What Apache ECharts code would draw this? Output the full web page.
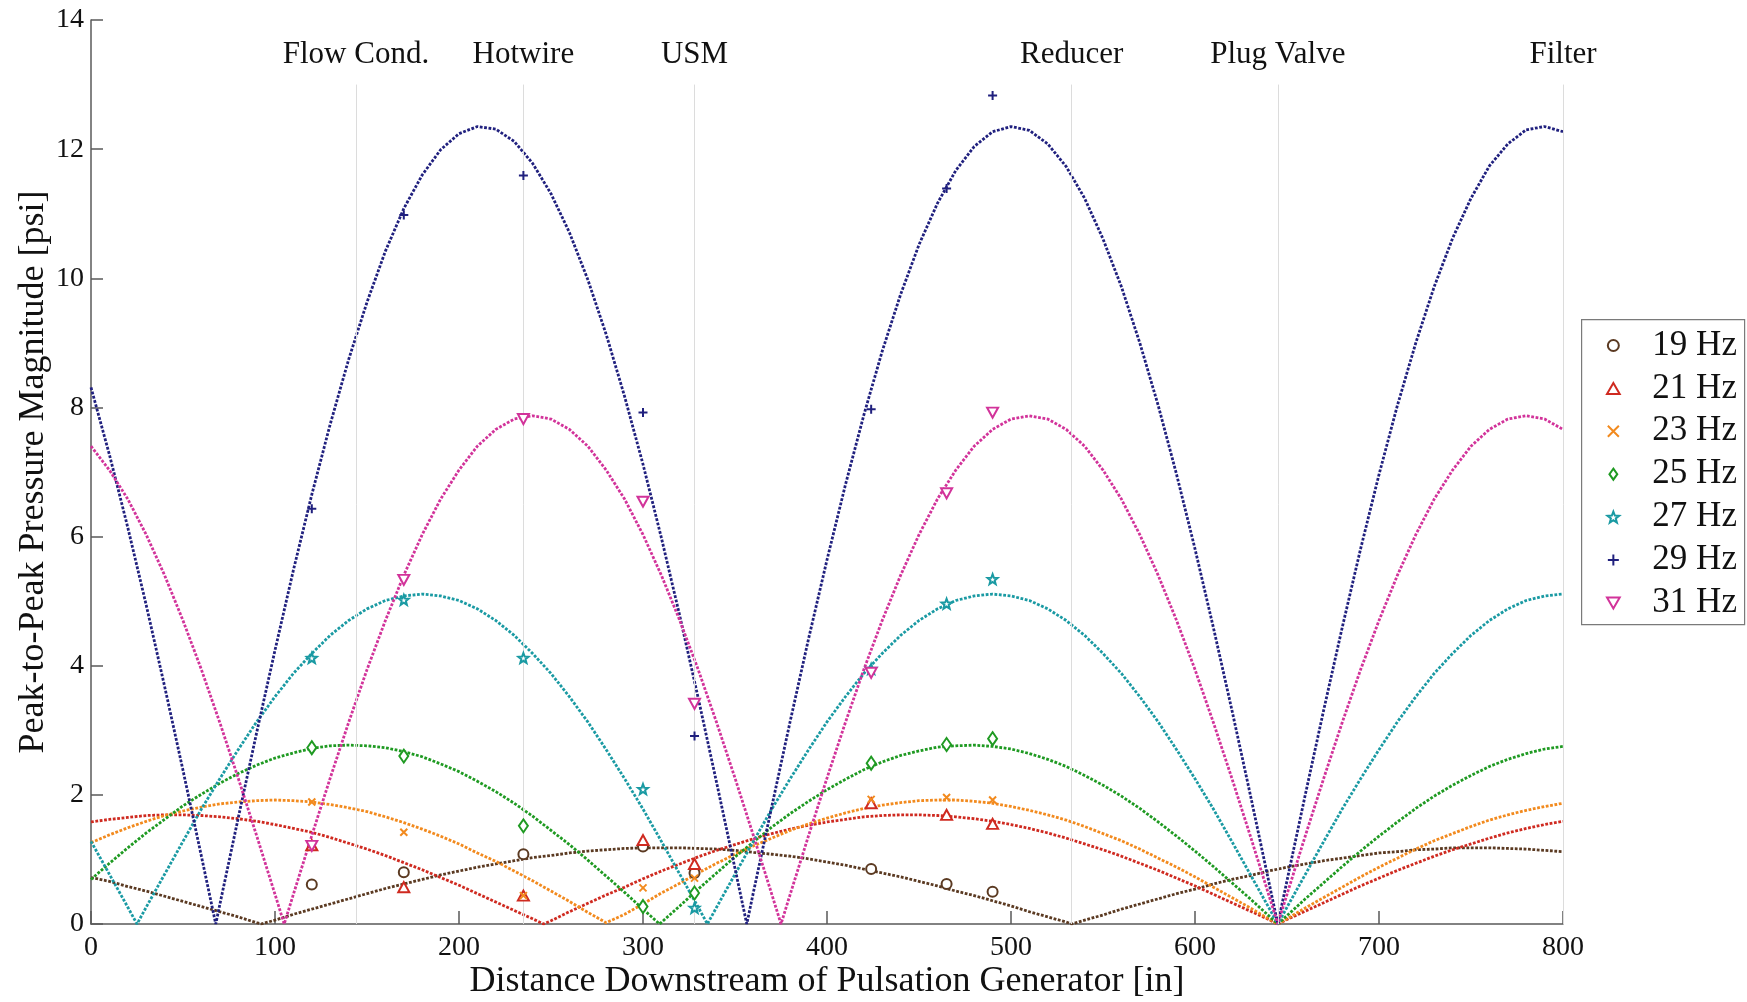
<!DOCTYPE html>
<html>
<head>
<meta charset="utf-8">
<script src="https://cdn.jsdelivr.net/npm/echarts@6/dist/echarts.min.js"></script>
<style>
html,body{margin:0;padding:0;background:#fff;}
#chart{width:1747px;height:1002px;}
</style>
</head>
<body>
<div id="chart"></div>
<script>
// ---------- data ----------
const seriesNames = ['19 Hz', '21 Hz', '23 Hz', '25 Hz', '27 Hz', '29 Hz', '31 Hz'];

// measurement locations [in]
const probeX = [120, 170, 235, 300, 328, 424, 465, 490];
// measured peak-to-peak magnitudes [psi]
const meas19 = [0.61, 0.80, 1.08, 1.20, 0.79, 0.85, 0.62, 0.50];
const meas21 = [1.22, 0.57, 0.44, 1.30, 0.93, 1.87, 1.69, 1.55];
const meas23 = [1.89, 1.42, 0.44, 0.56, 0.71, 1.93, 1.96, 1.92];
const meas25 = [2.73, 2.60, 1.52, 0.27, 0.48, 2.49, 2.78, 2.87];
const meas27 = [4.12, 5.02, 4.12, 2.09, 0.25, 3.95, 4.96, 5.34];
const meas29 = [6.43, 10.98, 11.59, 7.92, 2.91, 7.97, 11.39, 12.83];
const meas31 = [1.21, 5.33, 7.82, 6.54, 3.41, 3.89, 6.67, 7.92];

// model curves, read every 10 in from 0 to 800
const distanceGrid = Array.from({length: 81}, (_, i) => i * 10);
const fit19 = [
  0.72,0.66,0.58,0.51,0.43,0.35,0.27,0.19,0.11,0.02,
  0.06,0.15,0.23,0.31,0.39,0.47,0.55,0.62,0.69,0.76,
  0.82,0.88,0.93,0.98,1.03,1.06,1.10,1.13,1.15,1.17,
  1.18,1.18,1.18,1.17,1.16,1.14,1.11,1.08,1.05,1.01,
  0.96,0.91,0.85,0.79,0.73,0.66,0.59,0.51,0.44,0.36,
  0.28,0.19,0.11,0.03,0.06,0.14,0.23,0.31,0.39,0.47,
  0.54,0.62,0.69,0.75,0.82,0.88,0.93,0.98,1.02,1.06,
  1.10,1.12,1.15,1.16,1.18,1.18,1.18,1.17,1.16,1.14,
  1.12];
const fit21 = [
  1.58,1.62,1.65,1.68,1.69,1.69,1.68,1.66,1.63,1.59,
  1.54,1.48,1.42,1.34,1.25,1.16,1.06,0.95,0.84,0.72,
  0.60,0.47,0.34,0.21,0.08,0.05,0.19,0.32,0.45,0.57,
  0.70,0.82,0.93,1.04,1.14,1.23,1.32,1.40,1.47,1.53,
  1.58,1.62,1.66,1.68,1.69,1.69,1.68,1.66,1.63,1.59,
  1.54,1.48,1.41,1.33,1.24,1.15,1.05,0.94,0.83,0.71,
  0.59,0.46,0.33,0.20,0.07,0.07,0.20,0.33,0.46,0.59,
  0.71,0.83,0.94,1.05,1.15,1.24,1.33,1.41,1.48,1.54,
  1.59];
const fit23 = [
  1.26,1.38,1.49,1.59,1.68,1.75,1.81,1.86,1.89,1.91,
  1.92,1.91,1.89,1.85,1.80,1.74,1.66,1.57,1.47,1.36,
  1.24,1.10,0.97,0.82,0.67,0.51,0.35,0.18,0.02,0.15,
  0.31,0.48,0.63,0.79,0.94,1.08,1.21,1.33,1.45,1.55,
  1.64,1.72,1.79,1.84,1.88,1.91,1.92,1.92,1.90,1.87,
  1.82,1.76,1.69,1.61,1.51,1.40,1.29,1.16,1.02,0.88,
  0.73,0.57,0.41,0.25,0.08,0.08,0.25,0.41,0.57,0.73,
  0.88,1.02,1.16,1.29,1.40,1.51,1.61,1.69,1.76,1.82,
  1.87];
const fit25 = [
  0.69,0.94,1.18,1.41,1.62,1.83,2.01,2.18,2.33,2.46,
  2.57,2.65,2.72,2.76,2.77,2.76,2.73,2.67,2.59,2.48,
  2.36,2.21,2.05,1.87,1.67,1.45,1.23,0.99,0.74,0.49,
  0.23,0.03,0.28,0.54,0.79,1.04,1.27,1.50,1.71,1.90,
  2.08,2.24,2.39,2.51,2.61,2.68,2.74,2.76,2.77,2.75,
  2.71,2.64,2.55,2.44,2.30,2.15,1.98,1.79,1.58,1.36,
  1.13,0.89,0.64,0.39,0.13,0.13,0.39,0.64,0.89,1.13,
  1.36,1.58,1.79,1.98,2.15,2.30,2.44,2.55,2.64,2.71,
  2.75];
const fit27 = [
  1.28,0.77,0.26,0.26,0.77,1.28,1.78,2.25,2.70,3.13,
  3.52,3.88,4.19,4.47,4.70,4.88,5.01,5.08,5.11,5.08,
  5.01,4.88,4.70,4.47,4.19,3.88,3.52,3.13,2.70,2.25,
  1.78,1.28,0.77,0.26,0.26,0.77,1.28,1.78,2.25,2.70,
  3.13,3.52,3.88,4.19,4.47,4.70,4.88,5.01,5.08,5.11,
  5.08,5.01,4.88,4.70,4.47,4.19,3.88,3.52,3.13,2.70,
  2.25,1.78,1.28,0.77,0.26,0.26,0.77,1.28,1.78,2.25,
  2.70,3.13,3.52,3.88,4.19,4.47,4.70,4.88,5.01,5.08,
  5.11];
const fit29 = [
  8.31,7.27,6.14,4.94,3.68,2.38,1.05,0.30,1.64,2.96,
  4.24,5.48,6.65,7.74,8.74,9.63,10.42,11.08,11.60,11.99,
  12.24,12.35,12.31,12.12,11.78,11.31,10.71,9.98,9.13,8.17,
  7.12,5.98,4.77,3.50,2.19,0.86,0.49,1.82,3.14,4.42,
  5.64,6.80,7.88,8.87,9.75,10.52,11.16,11.67,12.04,12.27,
  12.35,12.29,12.08,11.73,11.24,10.61,9.87,9.00,8.03,6.96,
  5.81,4.59,3.32,2.01,0.67,0.67,2.01,3.32,4.59,5.81,
  6.96,8.03,9.00,9.87,10.62,11.24,11.74,12.08,12.30,12.35,
  12.27];
const fit31 = [
  7.40,7.03,6.58,6.03,5.40,4.70,3.94,3.12,2.26,1.37,
  0.46,0.46,1.37,2.26,3.12,3.94,4.70,5.40,6.03,6.58,
  7.03,7.40,7.66,7.82,7.87,7.82,7.66,7.40,7.03,6.58,
  6.03,5.40,4.70,3.94,3.12,2.26,1.37,0.46,0.46,1.37,
  2.26,3.12,3.94,4.70,5.40,6.03,6.58,7.03,7.40,7.66,
  7.82,7.87,7.82,7.66,7.40,7.03,6.58,6.03,5.40,4.70,
  3.94,3.12,2.26,1.37,0.46,0.46,1.37,2.26,3.12,3.94,
  4.70,5.40,6.03,6.58,7.03,7.40,7.66,7.82,7.87,7.82,
  7.66];
// where each model curve touches zero [in]
const node19 = [92.5, 533];
const node21 = [246, 645];
const node23 = [281, 645];
const node25 = [309, 645];
const node27 = [25, 335, 645];
const node29 = [67.8, 356.4, 645];
const node31 = [105, 375, 645];

// component locations along the pipe
const siteNames = ['Flow Cond.', 'Hotwire', 'USM', 'Reducer', 'Plug Valve', 'Filter'];
const siteX = [144, 235, 328, 533, 645, 800];

// ---------- styling ----------
const FONT = 'Liberation Serif';
const colors = ['#5b3a22', '#cf2a20', '#f28a1e', '#1f9a22', '#1a9aa3', '#20207e', '#d2339a'];
const SITE_TOP = 13.0;

const P_TRI = 'path://M5,0L10,8.66L0,8.66Z';
const P_TRI_DN = 'path://M0,0L10,0L5,8.66Z';
const P_X = 'path://M0,0L10,10M10,0L0,10';
const P_DIA = 'path://M5,0L10,7L5,14L0,7Z';
const P_STAR = 'path://M5,0L6.25,3.3L9.76,3.45L7,5.65L7.94,9.05L5,7.1L2.06,9.05L3,5.65L0.24,3.45L3.75,3.3Z';
const P_PLUS = 'path://M5,0L5,10M0,5L10,5';

const markerDefs = [
  {symbol: 'circle', size: 10, hollow: true},
  {symbol: P_TRI, size: [11, 10], hollow: true},
  {symbol: P_X, size: [7, 7], hollow: false},
  {symbol: P_DIA, size: [9, 13], hollow: true},
  {symbol: P_STAR, size: [10, 10], hollow: true},
  {symbol: P_PLUS, size: [9, 9], hollow: false},
  {symbol: P_TRI_DN, size: [11, 10], hollow: true}
];

const fits = [fit19, fit21, fit23, fit25, fit27, fit29, fit31];
const nodes = [node19, node21, node23, node25, node27, node29, node31];
const meas = [meas19, meas21, meas23, meas25, meas27, meas29, meas31];

function buildCurve(ys, zeroAt) {
  const pts = distanceGrid.map((x, i) => [x, ys[i]]);
  zeroAt.forEach(n => pts.push([n, 0]));
  pts.sort((a, b) => a[0] - b[0]);
  return pts;
}

function markerStyle(i) {
  const c = colors[i];
  const d = markerDefs[i];
  return d.hollow
    ? {color: '#ffffff', borderColor: c, borderWidth: 2, opacity: 1}
    : {color: c, borderColor: c, borderWidth: 2, opacity: 1};
}

const series = [];
// location lines
series.push({
  type: 'scatter', name: 'sites', data: [], silent: true, z: 1,
  markLine: {
    silent: true, symbol: ['none', 'none'], animation: false,
    lineStyle: {color: '#dcdcdc', width: 1, type: 'solid'},
    label: {show: true, position: 'end', distance: 14, formatter: p => p.name,
            fontFamily: FONT, fontSize: 31, color: '#111'},
    emphasis: {disabled: true},
    data: siteX.map((x, i) => [
      {name: siteNames[i], coord: [x, 0]},
      {name: siteNames[i], coord: [x, SITE_TOP]}
    ])
  }
});
// model curves
fits.forEach((ys, i) => {
  series.push({
    type: 'line', name: seriesNames[i] + ' model', data: buildCurve(ys, nodes[i]),
    showSymbol: false, smooth: false, z: 3, silent: true,
    lineStyle: {color: colors[i], width: 2.8, type: [2.8, 1.6], cap: 'butt'},
    emphasis: {disabled: true}
  });
});
// measurements
meas.forEach((ys, i) => {
  const d = markerDefs[i];
  series.push({
    type: 'scatter', name: seriesNames[i], z: 5, silent: true,
    data: probeX.map((x, k) => [x, ys[k]]),
    symbol: d.symbol, symbolSize: d.size,
    itemStyle: markerStyle(i),
    emphasis: {disabled: true}
  });
});

const chart = echarts.init(document.getElementById('chart'), null, {renderer: 'canvas'});
chart.setOption({
  animation: false,
  backgroundColor: '#ffffff',
  grid: {left: 91, right: 184, top: 20, bottom: 78, containLabel: false, outerBoundsMode: 'none'},
  xAxis: {
    type: 'value', min: 0, max: 800, interval: 100,
    name: 'Distance Downstream of Pulsation Generator [in]', nameLocation: 'middle', nameGap: 39.5,
    nameMoveOverlap: false,
    nameTextStyle: {fontFamily: FONT, fontSize: 36, color: '#111'},
    axisLine: {show: true, onZero: false, lineStyle: {color: '#5a5a5a', width: 1.5}},
    axisTick: {show: true, inside: true, length: 13, lineStyle: {color: '#5a5a5a', width: 1.5}},
    axisLabel: {fontFamily: FONT, fontSize: 28, color: '#111', margin: 10},
    splitLine: {show: false}
  },
  yAxis: {
    type: 'value', min: 0, max: 14, interval: 2,
    name: 'Peak-to-Peak Pressure Magnitude [psi]', nameLocation: 'middle', nameGap: 39,
    nameMoveOverlap: false,
    nameTextStyle: {fontFamily: FONT, fontSize: 36, color: '#111'},
    axisLine: {show: true, onZero: false, lineStyle: {color: '#5a5a5a', width: 1.5}},
    axisTick: {show: true, inside: true, length: 12, lineStyle: {color: '#5a5a5a', width: 1.5}},
    axisLabel: {fontFamily: FONT, fontSize: 28, color: '#111', margin: 7},
    splitLine: {show: false}
  },
  legend: {
    orient: 'vertical', left: 1606, top: 328, padding: 0,
    itemWidth: 68, itemHeight: 11, itemGap: 7.9, selectedMode: false,
    textStyle: {fontFamily: FONT, fontSize: 35, color: '#111', lineHeight: 34},
    data: seriesNames.map((n, i) => ({
      name: n, icon: markerDefs[i].symbol, itemStyle: markerStyle(i)
    }))
  },
  graphic: [{
    type: 'rect', left: 1581, top: 319, z: -1, silent: true,
    shape: {width: 163, height: 305},
    style: {fill: 'rgba(0,0,0,0)', stroke: '#7a7a7a', lineWidth: 1.2}
  }],
  series: series
});
</script>
</body>
</html>
